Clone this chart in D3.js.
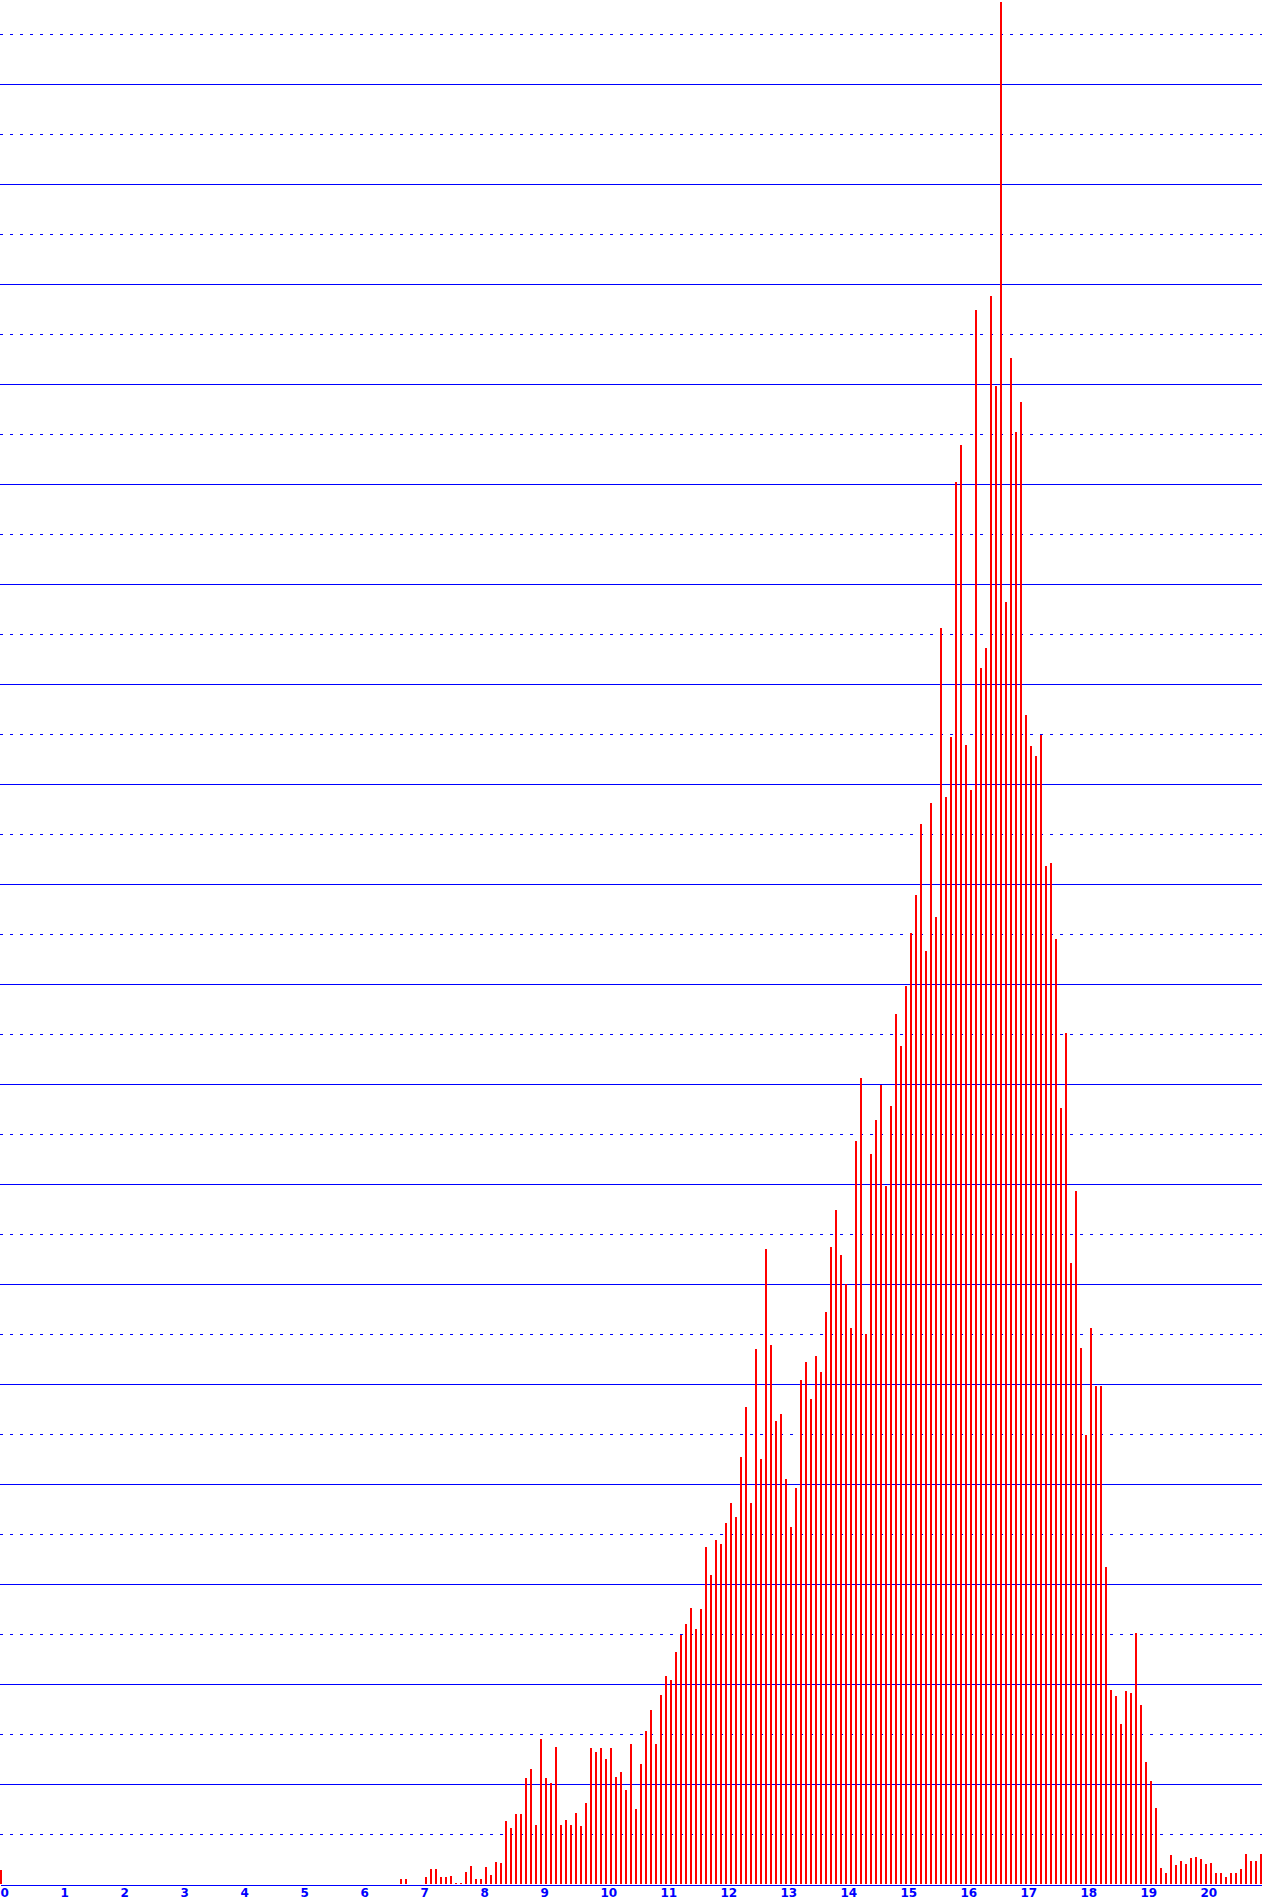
<!DOCTYPE html>
<html>
<head>
<meta charset="utf-8">
<script src="https://cdn.jsdelivr.net/npm/d3@7"></script>
<style>
  html, body { margin: 0; padding: 0; background: #ffffff; }
  svg { display: block; }
</style>
</head>
<body>
<div id="chart"></div>
<script>
// ---- data ----
// bin width on the x axis (12 bins per unit)
const binsPerUnit = 12;
// bar heights (in grid units) for bins 0..252, left to right
const counts = [
  0.28, 0,0,0,0,0,0,0,0,0, 0,0,0,0,0,0,0,0,0,0,
  0,0,0,0,0,0,0,0,0,0, 0,0,0,0,0,0,0,0,0,0,
  0,0,0,0,0,0,0,0,0,0, 0,0,0,0,0,0,0,0,0,0,
  0,0,0,0,0,0,0,0,0,0, 0,0,0,0,0,0,0,0,0,0,
  // 80..100
  0.10, 0.10, 0, 0, 0, 0.15, 0.30, 0.30, 0.15, 0.15,
  0.16, 0.02, 0.02, 0.24, 0.36, 0.10, 0.10, 0.34, 0.18, 0.44,
  0.42,
  // 101..126
  1.26, 1.13, 1.40, 1.40, 2.12, 2.30, 1.18, 2.90, 2.12, 2.02,
  2.74, 1.18, 1.28, 1.18, 1.42, 1.16, 1.62, 2.72, 2.64, 2.72,
  2.50, 2.72, 2.14, 2.24, 1.88, 2.80,
  // 127..144
  1.50, 2.40, 3.07, 3.48, 2.80, 3.78, 4.16, 4.08, 4.64, 4.99,
  5.20, 5.52, 5.10, 5.50, 6.74, 6.18, 6.88, 6.80,
  // 145..168
  7.22, 7.62, 7.34, 8.54, 9.54, 7.62, 10.70, 8.50, 12.70, 10.78,
  9.26, 9.40, 8.10, 7.14, 7.92, 10.08, 10.44, 9.70, 10.56, 10.24,
  11.44, 12.74, 13.48, 12.58,
  // 169..185
  12.01, 11.12, 14.86, 16.12, 11.00, 14.60, 15.29, 15.98, 13.96, 15.56,
  17.40, 16.76, 17.96, 19.02, 19.78, 21.20, 18.67,
  // 186..199
  21.62, 19.34, 25.12, 21.74, 22.94, 28.04, 28.78, 22.78, 21.88, 31.48,
  24.32, 24.72, 31.76, 29.96,
  // 200..211
  37.64, 25.64, 30.52, 29.04, 29.64, 23.38, 22.76, 22.56, 22.99, 20.36,
  20.42, 18.90,
  // 212..231
  15.52, 17.02, 12.42, 13.86, 10.72, 8.98, 11.12, 9.96, 9.96, 6.34,
  3.88, 3.76, 3.20, 3.86, 3.83, 5.02, 3.58, 2.45, 2.06, 1.53,
  // 232..252
  0.32, 0.22, 0.58, 0.38, 0.46, 0.40, 0.52, 0.54, 0.50, 0.40,
  0.42, 0.22, 0.22, 0.14, 0.22, 0.22, 0.30, 0.60, 0.46, 0.46,
  0.60
];
// x tick labels
const xTicks = d3.range(0, 21);
// horizontal grid levels (odd = dotted, even = solid)
const gridLevels = d3.range(1, 38);

// ---- layout ----
const W = 1262, H = 1904;
const baseY = 1884;
const xMax = W / 60;          // 60 px per unit
const yMax = baseY / 50;      // 50 px per grid unit

const svg = d3.select("#chart").append("svg")
  .attr("width", W).attr("height", H)
  .attr("viewBox", `0 0 ${W} ${H}`);

svg.append("rect").attr("width", W).attr("height", H).attr("fill", "#ffffff");

const x = d3.scaleLinear().domain([0, xMax]).range([0, W]);
const y = d3.scaleLinear().domain([0, yMax]).range([baseY, 0]);

// grid lines
svg.append("g").selectAll("line")
  .data(gridLevels)
  .join("line")
  .attr("x1", 0).attr("x2", W)
  .attr("y1", d => Math.round(y(d)) + 0.5)
  .attr("y2", d => Math.round(y(d)) + 0.5)
  .attr("stroke", "#0000ff")
  .attr("stroke-width", 1)
  .attr("shape-rendering", "crispEdges")
  .attr("stroke-dasharray", d => d % 2 === 1 ? "3,7" : null);

// bars
const bins = counts.map((v, i) => ({ x: i / binsPerUnit, v }));
svg.append("g").selectAll("rect")
  .data(bins.filter(d => d.v > 0))
  .join("rect")
  .attr("x", d => Math.round(x(d.x)))
  .attr("width", 2)
  .attr("y", d => Math.round(y(d.v)))
  .attr("height", d => Math.max(1, baseY - Math.round(y(d.v))))
  .attr("fill", "#ff0000")
  .attr("shape-rendering", "crispEdges");

// baseline axis
const axis = d3.axisBottom(x).tickValues(xTicks).tickSize(0).tickFormat(d3.format("d"));
const gAxis = svg.append("g")
  .attr("transform", `translate(0,${baseY + 0.5})`)
  .call(axis);
gAxis.select(".domain")
  .attr("stroke", "#0000ff")
  .attr("stroke-width", 1)
  .attr("shape-rendering", "crispEdges");
gAxis.selectAll(".tick text")
  .attr("fill", "#0000ff")
  .attr("font-family", "'DejaVu Sans', Verdana, sans-serif")
  .attr("font-weight", "bold")
  .attr("font-size", "12px")
  .attr("text-anchor", "start")
  .attr("dy", null)
  .attr("y", 12.5);
</script>
</body>
</html>
